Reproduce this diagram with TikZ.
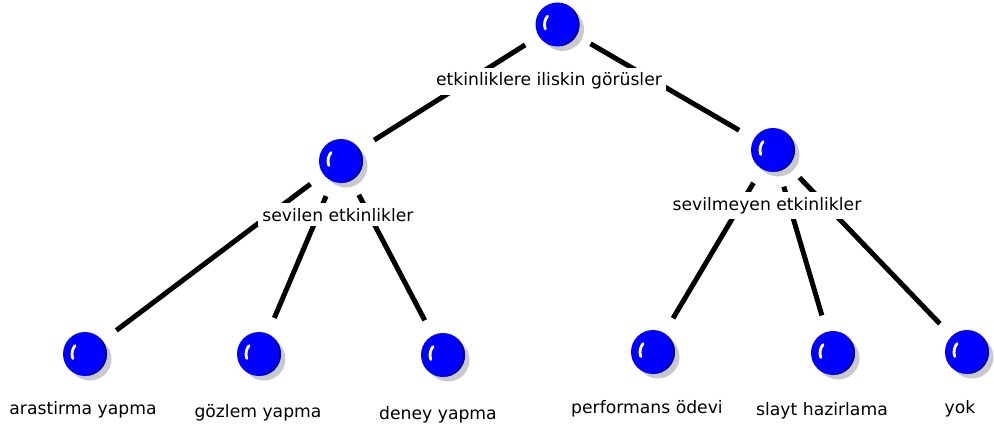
\documentclass[tikz,border=0pt]{standalone}
\usepackage{fontspec}
\setmainfont{DejaVu Sans}
\usetikzlibrary{calc}
\pgfdeclarelayer{bg}
\pgfsetlayers{bg,main}
\definecolor{ballblue}{RGB}{0,0,255}
\definecolor{rimblue}{RGB}{0,0,140}
\definecolor{shadowgray}{RGB}{200,200,205}
\tikzset{
  ballnode/.style={circle, minimum size=44pt, inner sep=0pt},
  lbl/.style={font=\fontsize{17.2}{20}\selectfont, fill=white, inner xsep=4pt, inner ysep=5pt, anchor=base},
  leaflbl/.style={font=\fontsize{17.2}{20}\selectfont, inner sep=0pt, anchor=base},
  edge/.style={line width=5pt, black, shorten <=16pt, shorten >=17pt},
}
\newcommand{\drawball}[1]{%
  \fill[shadowgray] ($(#1.center)+(5,5)$) circle (21.5pt);
  \fill[ballblue] (#1.center) circle (22pt);
  \draw[rimblue, line width=1.6pt] ($(#1.center)+(-80:21.2pt)$) arc[start angle=-80, end angle=40, radius=21.2pt];
  \draw[white, line width=2.8pt, line cap=round] ($(#1.center)+(200:13pt)$) arc[start angle=200, end angle=140, radius=13pt];
}
\begin{document}
\begin{tikzpicture}[x=1pt,y=-1pt]
\useasboundingbox (0,0) rectangle (994,428);
% ball positions
\node[ballnode] (root) at (557.5,24.5) {};
\node[ballnode] (sev) at (341,161) {};
\node[ballnode] (smy) at (773,150) {};
\node[ballnode] (l1) at (85,354) {};
\node[ballnode] (l2) at (259,354) {};
\node[ballnode] (l3) at (443,355) {};
\node[ballnode] (r1) at (653,352) {};
\node[ballnode] (r2) at (833,353) {};
\node[ballnode] (r3) at (967,352) {};
% edges
\begin{pgfonlayer}{bg}
\draw[edge] (root) -- (sev);
\draw[edge] (root) -- (smy);
\draw[edge] (sev) -- (l1);
\draw[edge] (sev) -- (l2);
\draw[edge] (sev) -- (l3);
\draw[edge] (smy) -- (r1);
\draw[edge] (smy) -- (r2);
\draw[edge] (smy) -- (r3);
\end{pgfonlayer}
% middle labels
\node[lbl] (rootlbl) at (549,86) {etkinliklere iliskin görüsler};
\node[lbl] (sevlbl) at (338,221) {sevilen etkinlikler};
\node[lbl] (smylbl) at (767,210) {sevilmeyen etkinlikler};
% leaf labels
\node[leaflbl] (l1lbl) at (83,414) {arastirma yapma};
\node[leaflbl] (l2lbl) at (258,417) {gözlem yapma};
\node[leaflbl] (l3lbl) at (438,419) {deney yapma};
\node[leaflbl] (r1lbl) at (647,413) {performans ödevi};
\node[leaflbl] (r2lbl) at (822,415) {slayt hazirlama};
\node[leaflbl] (r3lbl) at (960,413) {yok};
% balls
\drawball{root}
\drawball{sev}
\drawball{smy}
\drawball{l1}
\drawball{l2}
\drawball{l3}
\drawball{r1}
\drawball{r2}
\drawball{r3}
\end{tikzpicture}
\end{document}
